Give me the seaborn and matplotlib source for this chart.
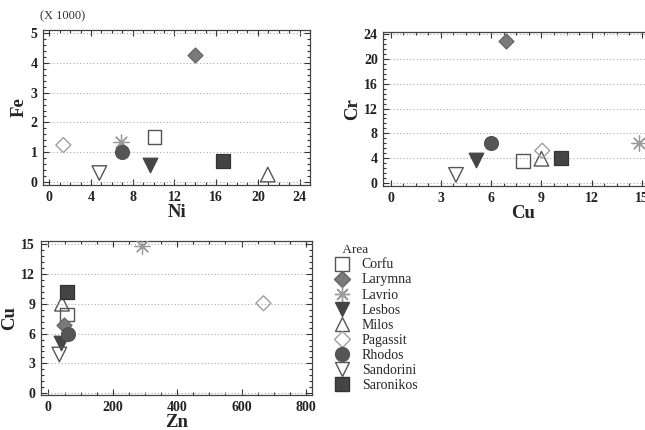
import matplotlib
matplotlib.use("Agg")
import matplotlib.pyplot as plt
from matplotlib.lines import Line2D
from matplotlib.ticker import MultipleLocator, AutoMinorLocator
import seaborn as sns
import pandas as pd

# values
areas = ["Corfu", "Larymna", "Lavrio", "Lesbos", "Milos",
         "Pagassit", "Rhodos", "Sandorini", "Saronikos"]
ni = [10.1, 13.95, 6.85, 9.7, 20.95, 1.35, 6.95, 4.8, 16.7]
fe = [1.52, 4.28, 1.35, 0.56, 0.25, 1.24, 1.02, 0.30, 0.72]   # x 1000
cu = [7.9, 6.9, 14.8, 5.1, 9.0, 9.05, 6.0, 3.9, 10.2]
cr = [3.5, 22.9, 6.5, 3.7, 3.9, 5.2, 6.5, 1.3, 4.1]
zn = [57, 49, 290, 40, 42, 668, 60, 34, 57]

df = pd.DataFrame({"Area": areas, "Ni": ni, "Fe": fe, "Cu": cu, "Cr": cr, "Zn": zn})

# marker, face colour, edge colour
styles = {
    "Corfu":     ("s", "none", "#555555"),
    "Larymna":   ("D", "#7a7a7a", "#666666"),
    "Lavrio":    ((8, 2, 0), "#9a9a9a", "#9a9a9a"),
    "Lesbos":    ("v", "#454545", "#454545"),
    "Milos":     ("^", "none", "#555555"),
    "Pagassit":  ("D", "none", "#a0a0a0"),
    "Rhodos":    ("o", "#555555", "#555555"),
    "Sandorini": ("v", "none", "#555555"),
    "Saronikos": ("s", "#444444", "#333333"),
}
sizes = {"s": 95, "D": 58, "o": 100, "v": 110, "^": 110}
leg_sizes = {"s": 10, "D": 8, "o": 10, "v": 10, "^": 10}

sns.set_style("ticks")
plt.rcParams["font.family"] = ["Liberation Serif", "DejaVu Serif"]

fig = plt.figure(figsize=(6.45, 4.3), dpi=100)
ax1 = fig.add_axes([0.0667, 0.5698, 0.414, 0.3602])
ax2 = fig.add_axes([0.5943, 0.5674, 0.432, 0.3589])
ax3 = fig.add_axes([0.0631, 0.0814, 0.4202, 0.3588])


def draw(ax, xcol, ycol):
    for area in areas:
        m, fc, ec = styles[area]
        sub = df[df["Area"] == area]
        s = sizes.get(m, 110) if not isinstance(m, tuple) else 120
        if fc == "none":
            sns.scatterplot(data=sub, x=xcol, y=ycol, ax=ax, marker=m, s=s,
                            color=ec, facecolor="none", edgecolor=ec,
                            linewidth=1.0, zorder=3, legend=False)
        else:
            sns.scatterplot(data=sub, x=xcol, y=ycol, ax=ax, marker=m, s=s,
                            color=fc, edgecolor=ec, linewidth=0.9,
                            zorder=3, legend=False)


def style_axis(ax, xlim, ylim, xstep, ystep, xlabel, ylabel):
    ax.set_xlim(*xlim)
    ax.set_ylim(*ylim)
    ax.xaxis.set_major_locator(MultipleLocator(xstep))
    ax.yaxis.set_major_locator(MultipleLocator(ystep))
    ax.xaxis.set_minor_locator(AutoMinorLocator(4))
    ax.yaxis.set_minor_locator(AutoMinorLocator(5))
    ax.tick_params(which="both", direction="in", top=True, right=True,
                   colors="#333333", labelcolor="#222222", width=0.8)
    ax.tick_params(which="major", length=4, labelsize=10, pad=4)
    ax.tick_params(which="minor", length=2)
    for lab in ax.get_xticklabels() + ax.get_yticklabels():
        lab.set_fontweight("bold")
    ax.yaxis.grid(True, linestyle=(0, (1, 2)), color="#aaaaaa", linewidth=0.8)
    for sp in ax.spines.values():
        sp.set_color("#444444")
        sp.set_linewidth(0.9)
    ax.set_xlabel(xlabel, fontsize=13.5, fontweight="bold", labelpad=0)
    ax.set_ylabel(ylabel, fontsize=13.5, fontweight="bold", labelpad=2)


draw(ax1, "Ni", "Fe")
style_axis(ax1, (-0.6, 25), (-0.1, 5.1), 4, 1, "Ni", "Fe")

draw(ax2, "Cu", "Cr")
style_axis(ax2, (-0.44, 16.2), (-0.5, 24.4), 3, 4, "Cu", "Cr")

draw(ax3, "Zn", "Cu")
style_axis(ax3, (-24, 818), (-0.17, 15.33), 200, 3, "Zn", "Cu")

fig.text(0.062, 0.963, "(X 1000)", fontsize=9, color="#333333", va="center")

handles = []
for area in areas:
    m, fc, ec = styles[area]
    ms = leg_sizes.get(m, 11) if not isinstance(m, tuple) else 11
    handles.append(Line2D([], [], linestyle="none", marker=m, markersize=ms,
                          markerfacecolor=fc, markeredgecolor=ec,
                          markeredgewidth=1.0, label=area))
leg = fig.legend(handles=handles, title="   Area", loc="upper left",
                 bbox_to_anchor=(0.505, 0.448), frameon=False, fontsize=10,
                 title_fontsize=9.5, handlelength=1.4, handletextpad=0.7,
                 labelspacing=0.15, borderpad=0, alignment="left")

fig.savefig("out.png", dpi=100)
